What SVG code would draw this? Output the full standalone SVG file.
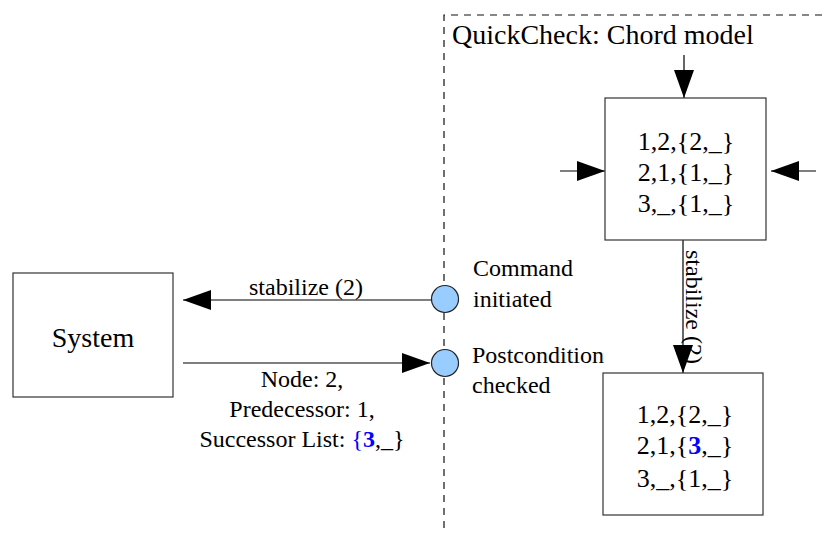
<svg xmlns="http://www.w3.org/2000/svg" width="826" height="533" viewBox="0 0 826 533">
  <defs>
    <style>
      text { font-family: "Liberation Serif", "Times New Roman", serif; fill: #000; }
      .box { fill: #fff; stroke: #333; stroke-width: 1.2; }
      .line { stroke: #000; stroke-width: 1.2; fill: none; }
      .dash { stroke: #111; stroke-width: 1.2; fill: none; stroke-dasharray: 7 6; }
      .dot { fill: #99ccff; stroke: #222; stroke-width: 1.2; }
      .lbl { font-size: 24px; }
      .state { font-size: 26px; text-anchor: middle; }
      .hl { fill: #0000ff; font-weight: bold; }
      .blue { fill: #0000ff; }
    </style>
    <marker id="arrow" viewBox="0 0 28 20" refX="28" refY="10" markerWidth="28" markerHeight="20" markerUnits="userSpaceOnUse" orient="auto">
      <path d="M0,0 L28,10 L0,20 Z" fill="#000"/>
    </marker>
  </defs>

  <!-- model boundary -->
  <g id="boundary">
    <path class="dash" d="M444,528 L444,15 L826,15"/>
    <text x="452" y="44" style="font-size:28px">QuickCheck: Chord model</text>
  </g>

  <!-- connectors -->
  <g id="connectors">
    <line class="line" x1="684" y1="55" x2="684" y2="98" marker-end="url(#arrow)"/>
    <line class="line" x1="560" y1="171" x2="605" y2="171" marker-end="url(#arrow)"/>
    <line class="line" x1="816" y1="171" x2="771" y2="171" marker-end="url(#arrow)"/>
    <line class="line" x1="683" y1="240" x2="683" y2="373" marker-end="url(#arrow)"/>
    <text class="lbl" transform="translate(686,250) rotate(90)">stabilize (2)</text>
    <line class="line" x1="431" y1="300" x2="183" y2="300" marker-end="url(#arrow)"/>
    <text class="lbl" x="306" y="295" text-anchor="middle">stabilize (2)</text>
    <line class="line" x1="183" y1="363" x2="430" y2="363" marker-end="url(#arrow)"/>
    <text class="lbl" x="302" y="387" text-anchor="middle">Node: 2,</text>
    <text class="lbl" x="302" y="417" text-anchor="middle">Predecessor: 1,</text>
    <text class="lbl" x="302" y="447" text-anchor="middle">Successor List: <tspan class="blue">{</tspan><tspan class="hl">3</tspan>,_}</text>
  </g>

  <!-- system under test -->
  <g id="system">
    <rect class="box" x="13" y="273" width="160" height="124"/>
    <text x="93" y="347" text-anchor="middle" style="font-size:28px">System</text>
  </g>

  <!-- checkpoints on the boundary -->
  <g id="command-initiated">
    <circle class="dot" cx="445" cy="299" r="13.5"/>
    <text class="lbl" x="473" y="276">Command</text>
    <text class="lbl" x="473" y="307">initiated</text>
  </g>
  <g id="postcondition-checked">
    <circle class="dot" cx="445" cy="363" r="13.5"/>
    <text class="lbl" x="472" y="363">Postcondition</text>
    <text class="lbl" x="472" y="393">checked</text>
  </g>

  <!-- model state before the command -->
  <g id="state-before">
    <rect class="box" x="605" y="98" width="161" height="142"/>
    <text class="state" x="686" y="150">1,2,{2,_}</text>
    <text class="state" x="686" y="181">2,1,{1,_}</text>
    <text class="state" x="686" y="212">3,_,{1,_}</text>
  </g>

  <!-- model state after the command -->
  <g id="state-after">
    <rect class="box" x="603" y="373" width="160" height="142"/>
    <text class="state" x="685" y="423">1,2,{2,_}</text>
    <text class="state" x="685" y="454">2,1,{<tspan class="hl">3</tspan>,_}</text>
    <text class="state" x="685" y="487">3,_,{1,_}</text>
  </g>
</svg>
